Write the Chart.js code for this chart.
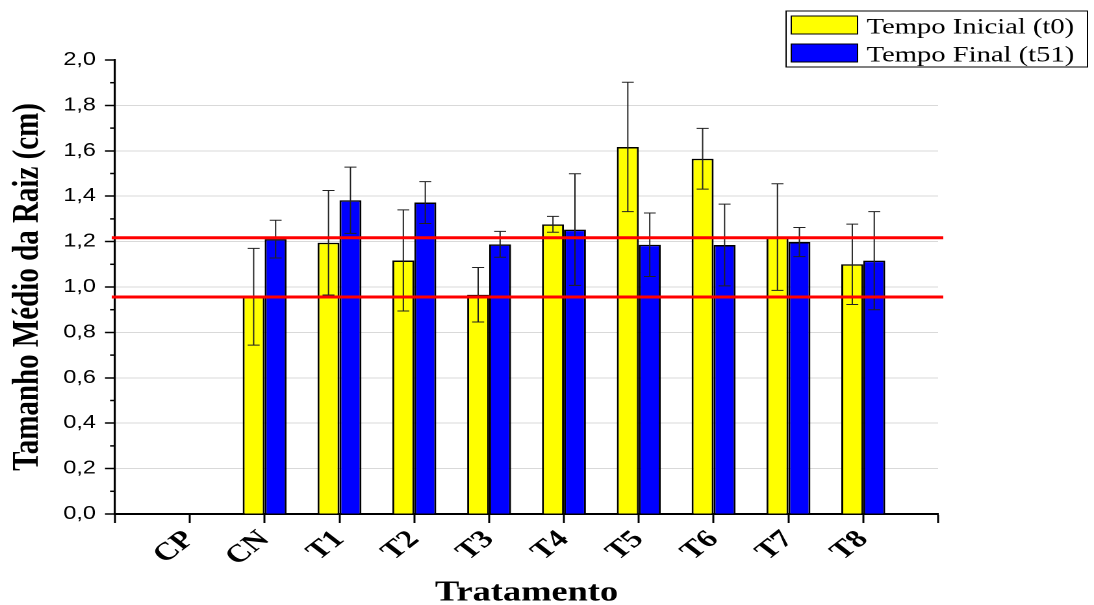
<!DOCTYPE html>
<html>
<head>
<meta charset="utf-8">
<title>Tamanho Médio da Raiz</title>
<script src="https://cdn.jsdelivr.net/npm/chart.js@4.4.1/dist/chart.umd.min.js"></script>
<style>
  body { margin: 0; background: #fff; }
  /* the original figure is stretched sideways, so the canvas is drawn narrower and widened */
  #raiz { display: block; width: 1094px !important; height: 605px !important; }
</style>
</head>
<body>
<canvas id="raiz" width="842" height="605"></canvas>
<script>
// data
const categories = ["CP", "CN", "T1", "T2", "T3", "T4", "T5", "T6", "T7", "T8"];
const inicial    = [null, 0.957, 1.195, 1.117, 0.966, 1.276, 1.617, 1.565, 1.220, 1.100];
const inicialErr = [null, 0.213, 0.230, 0.223, 0.120, 0.035, 0.285, 0.134, 0.235, 0.177];
const final      = [null, 1.211, 1.382, 1.372, 1.188, 1.253, 1.186, 1.185, 1.198, 1.116];
const finalErr   = [null, 0.083, 0.146, 0.092, 0.057, 0.246, 0.140, 0.180, 0.064, 0.216];
const refLines   = [1.217, 0.956];

// empty slot on each side of the axis
const labels = [""].concat(categories, [""]);
const pad = arr => [null].concat(arr, [null]);

const errorBars = {
    id: 'errorBars',
    afterDatasetsDraw(chart) {
        const ctx = chart.ctx, y = chart.scales.y;
        ctx.save();
        ctx.strokeStyle = '#222';
        ctx.lineWidth = 1;
        chart.data.datasets.forEach((ds, i) => {
            chart.getDatasetMeta(i).data.forEach((bar, j) => {
                const v = ds.data[j], e = ds.errors[j];
                if (v == null || e == null) return;
                const top = y.getPixelForValue(v + e), bot = y.getPixelForValue(v - e);
                ctx.beginPath();
                ctx.moveTo(bar.x, top); ctx.lineTo(bar.x, bot);
                ctx.moveTo(bar.x - 4.6, top); ctx.lineTo(bar.x + 4.6, top);
                ctx.moveTo(bar.x - 4.6, bot); ctx.lineTo(bar.x + 4.6, bot);
                ctx.stroke();
            });
        });
        // red reference lines
        const area = chart.chartArea;
        ctx.strokeStyle = '#ff0000';
        ctx.lineWidth = 3;
        refLines.forEach(v => {
            const py = y.getPixelForValue(v);
            ctx.beginPath();
            ctx.moveTo(area.left - 2.5, py);
            ctx.lineTo(area.right + 4, py);
            ctx.stroke();
        });
        ctx.restore();
    }
};

const minorTicks = {
    id: 'minorTicks',
    afterDraw(chart) {
        const ctx = chart.ctx, y = chart.scales.y, left = chart.chartArea.left;
        ctx.save();
        ctx.strokeStyle = '#000';
        ctx.lineWidth = 1.5;
        for (let k = 1; k < 20; k += 2) {
            const py = y.getPixelForValue(k / 10);
            ctx.beginPath();
            ctx.moveTo(left - 3.8, py);
            ctx.lineTo(left, py);
            ctx.stroke();
        }
        ctx.restore();
    }
};

const legendBox = {
    id: 'legendBox',
    afterDraw(chart) {
        const ctx = chart.ctx;
        ctx.save();
        ctx.lineWidth = 1;
        ctx.strokeStyle = '#000';
        ctx.strokeRect(605, 11, 232, 56);
        ctx.font = '22px "Liberation Serif"';
        chart.data.datasets.forEach((ds, i) => {
            const top = 16 + i * 28;
            ctx.fillStyle = ds.backgroundColor;
            ctx.fillRect(609, top, 51, 18);
            ctx.strokeRect(609, top, 51, 18);
            ctx.fillStyle = '#000';
            ctx.fillText(ds.label, 667, top + 17.5);
        });
        ctx.restore();
    }
};

new Chart(document.getElementById("raiz"), {
    type: 'bar',
    data: {
        labels: labels,
        datasets: [
            {
                label: "Tempo Inicial (t0)",
                backgroundColor: "#ffff00",
                borderColor: "#000",
                borderWidth: 1.5,
                data: pad(inicial),
                errors: pad(inicialErr)
            },
            {
                label: "Tempo Final (t51)",
                backgroundColor: "#0000ff",
                borderColor: "#000",
                borderWidth: 1.5,
                data: pad(final),
                errors: pad(finalErr)
            }
        ]
    },
    options: {
        responsive: false,
        devicePixelRatio: 2,
        animation: false,
        layout: { padding: { left: 0, right: 120, top: 60, bottom: 0 } },
        datasets: { bar: { categoryPercentage: 0.587, barPercentage: 1.0 } },
        plugins: {
            legend: { display: false },
            tooltip: { enabled: false }
        },
        scales: {
            x: {
                offset: false,
                grid: { offset: false, drawOnChartArea: false, tickLength: 9, tickColor: '#000', tickWidth: 1.5 },
                border: { color: '#000', width: 2 },
                ticks: {
                    autoSkip: false, maxRotation: 45, minRotation: 45, padding: 2,
                    color: '#000',
                    font: { family: 'Liberation Serif', weight: 'bold', size: 25 }
                },
                title: {
                    display: true, text: 'Tratamento', color: '#000',
                    font: { family: 'Liberation Serif', weight: 'bold', size: 28, lineHeight: 0.85 },
                    padding: { top: 0, bottom: 0 }
                },
                afterFit(scale) { scale.height = 91; }
            },
            y: {
                min: 0, max: 2,
                grid: {
                    color: c => (c.tick.value === 0 || c.tick.value === 2) ? 'rgba(0,0,0,0)' : '#d9d9d9',
                    tickColor: '#000', tickLength: 7.7, tickWidth: 1.5
                },
                border: { color: '#000', width: 1.6 },
                ticks: {
                    stepSize: 0.2, padding: 7, color: '#000',
                    font: { family: 'Liberation Sans', size: 18 },
                    callback: v => v.toFixed(1).replace('.', ',')
                },
                title: {
                    display: true, text: 'Tamanho Médio da Raiz (cm)', color: '#000',
                    font: { family: 'Liberation Serif', weight: 'bold', size: 29 },
                    padding: { top: 4, bottom: 0 }
                },
                afterFit(scale) { scale.width = 88.5; }
            }
        }
    },
    plugins: [errorBars, minorTicks, legendBox]
});
</script>
</body>
</html>
